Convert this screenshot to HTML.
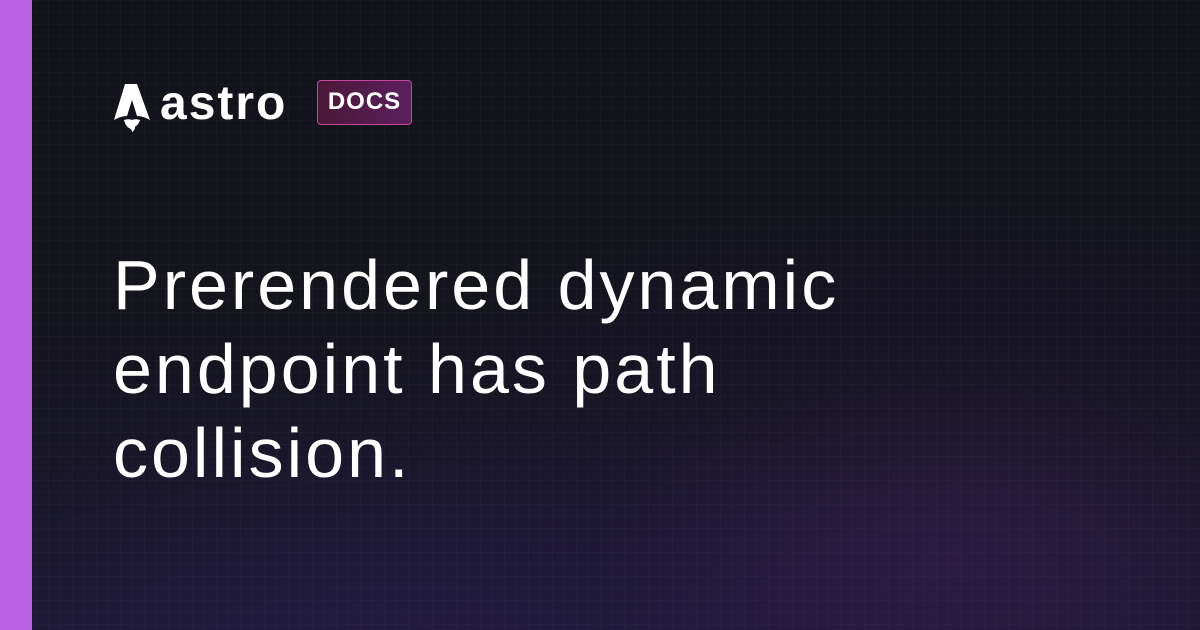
<!DOCTYPE html>
<html><head><meta charset="utf-8"><style>
html,body{margin:0;padding:0}
body{width:1200px;height:630px;overflow:hidden;position:relative;background:#14141d;font-family:"Liberation Sans",sans-serif}
.bg{position:absolute;inset:0;background:
radial-gradient(ellipse 650px 380px at 950px 560px,rgba(70,35,100,.4),rgba(35,22,60,.18) 55%,rgba(0,0,0,0) 100%),
radial-gradient(ellipse 600px 280px at 400px 650px,rgba(45,32,90,.4),rgba(0,0,0,0) 100%),
linear-gradient(180deg,#12131a 0%,#14141d 50%,#1b1830 100%);}
.grid{position:absolute;inset:0;background-image:linear-gradient(rgba(255,255,255,.02) 1px,transparent 1px),linear-gradient(90deg,rgba(255,255,255,.02) 1px,transparent 1px);background-size:12px 12px}
.bar{position:absolute;left:0;top:0;width:32px;height:630px;background:#b762e4}
.logo{position:absolute;color:#fff;font-weight:bold;font-size:48px;line-height:36px}
.docs{position:absolute;left:317px;top:80px;width:95px;height:45px;box-sizing:border-box;border:1.5px solid #c3479a;border-radius:4px;background:linear-gradient(90deg,#4a1838,#5c1f5e);color:#fff;font-weight:bold;font-size:24px;line-height:42px;text-align:center;letter-spacing:1px}
h1{position:absolute;left:113px;top:243px;margin:0;color:#fff;font-weight:normal;font-size:70px;line-height:84px;letter-spacing:3px}
</style></head><body>
<div class="bg"></div><div class="grid"></div><div class="bar"></div>
<svg style="position:absolute;left:112px;top:84px" width="40" height="48" viewBox="0 0 40 48"><path d="M13 0h12l13 36c-5-3-10-4-13-4l-5-16-5 16c-3 0-8 1-13 4z" fill="#fff"/><path d="M12 36c3-1 6-1 8 0 2-1 5-1 8 0-1 4-4 6-5 7 0 2-1 4-3 5 0-2-1-3-3-4-2-1-4-4-5-8z" fill="#fff"/></svg>
<div class="logo" style="left:160px;top:86px;letter-spacing:2px">astro</div>
<div class="docs">DOCS</div>
<h1>Prerendered dynamic<br>endpoint has path<br>collision.</h1>
</body></html>
